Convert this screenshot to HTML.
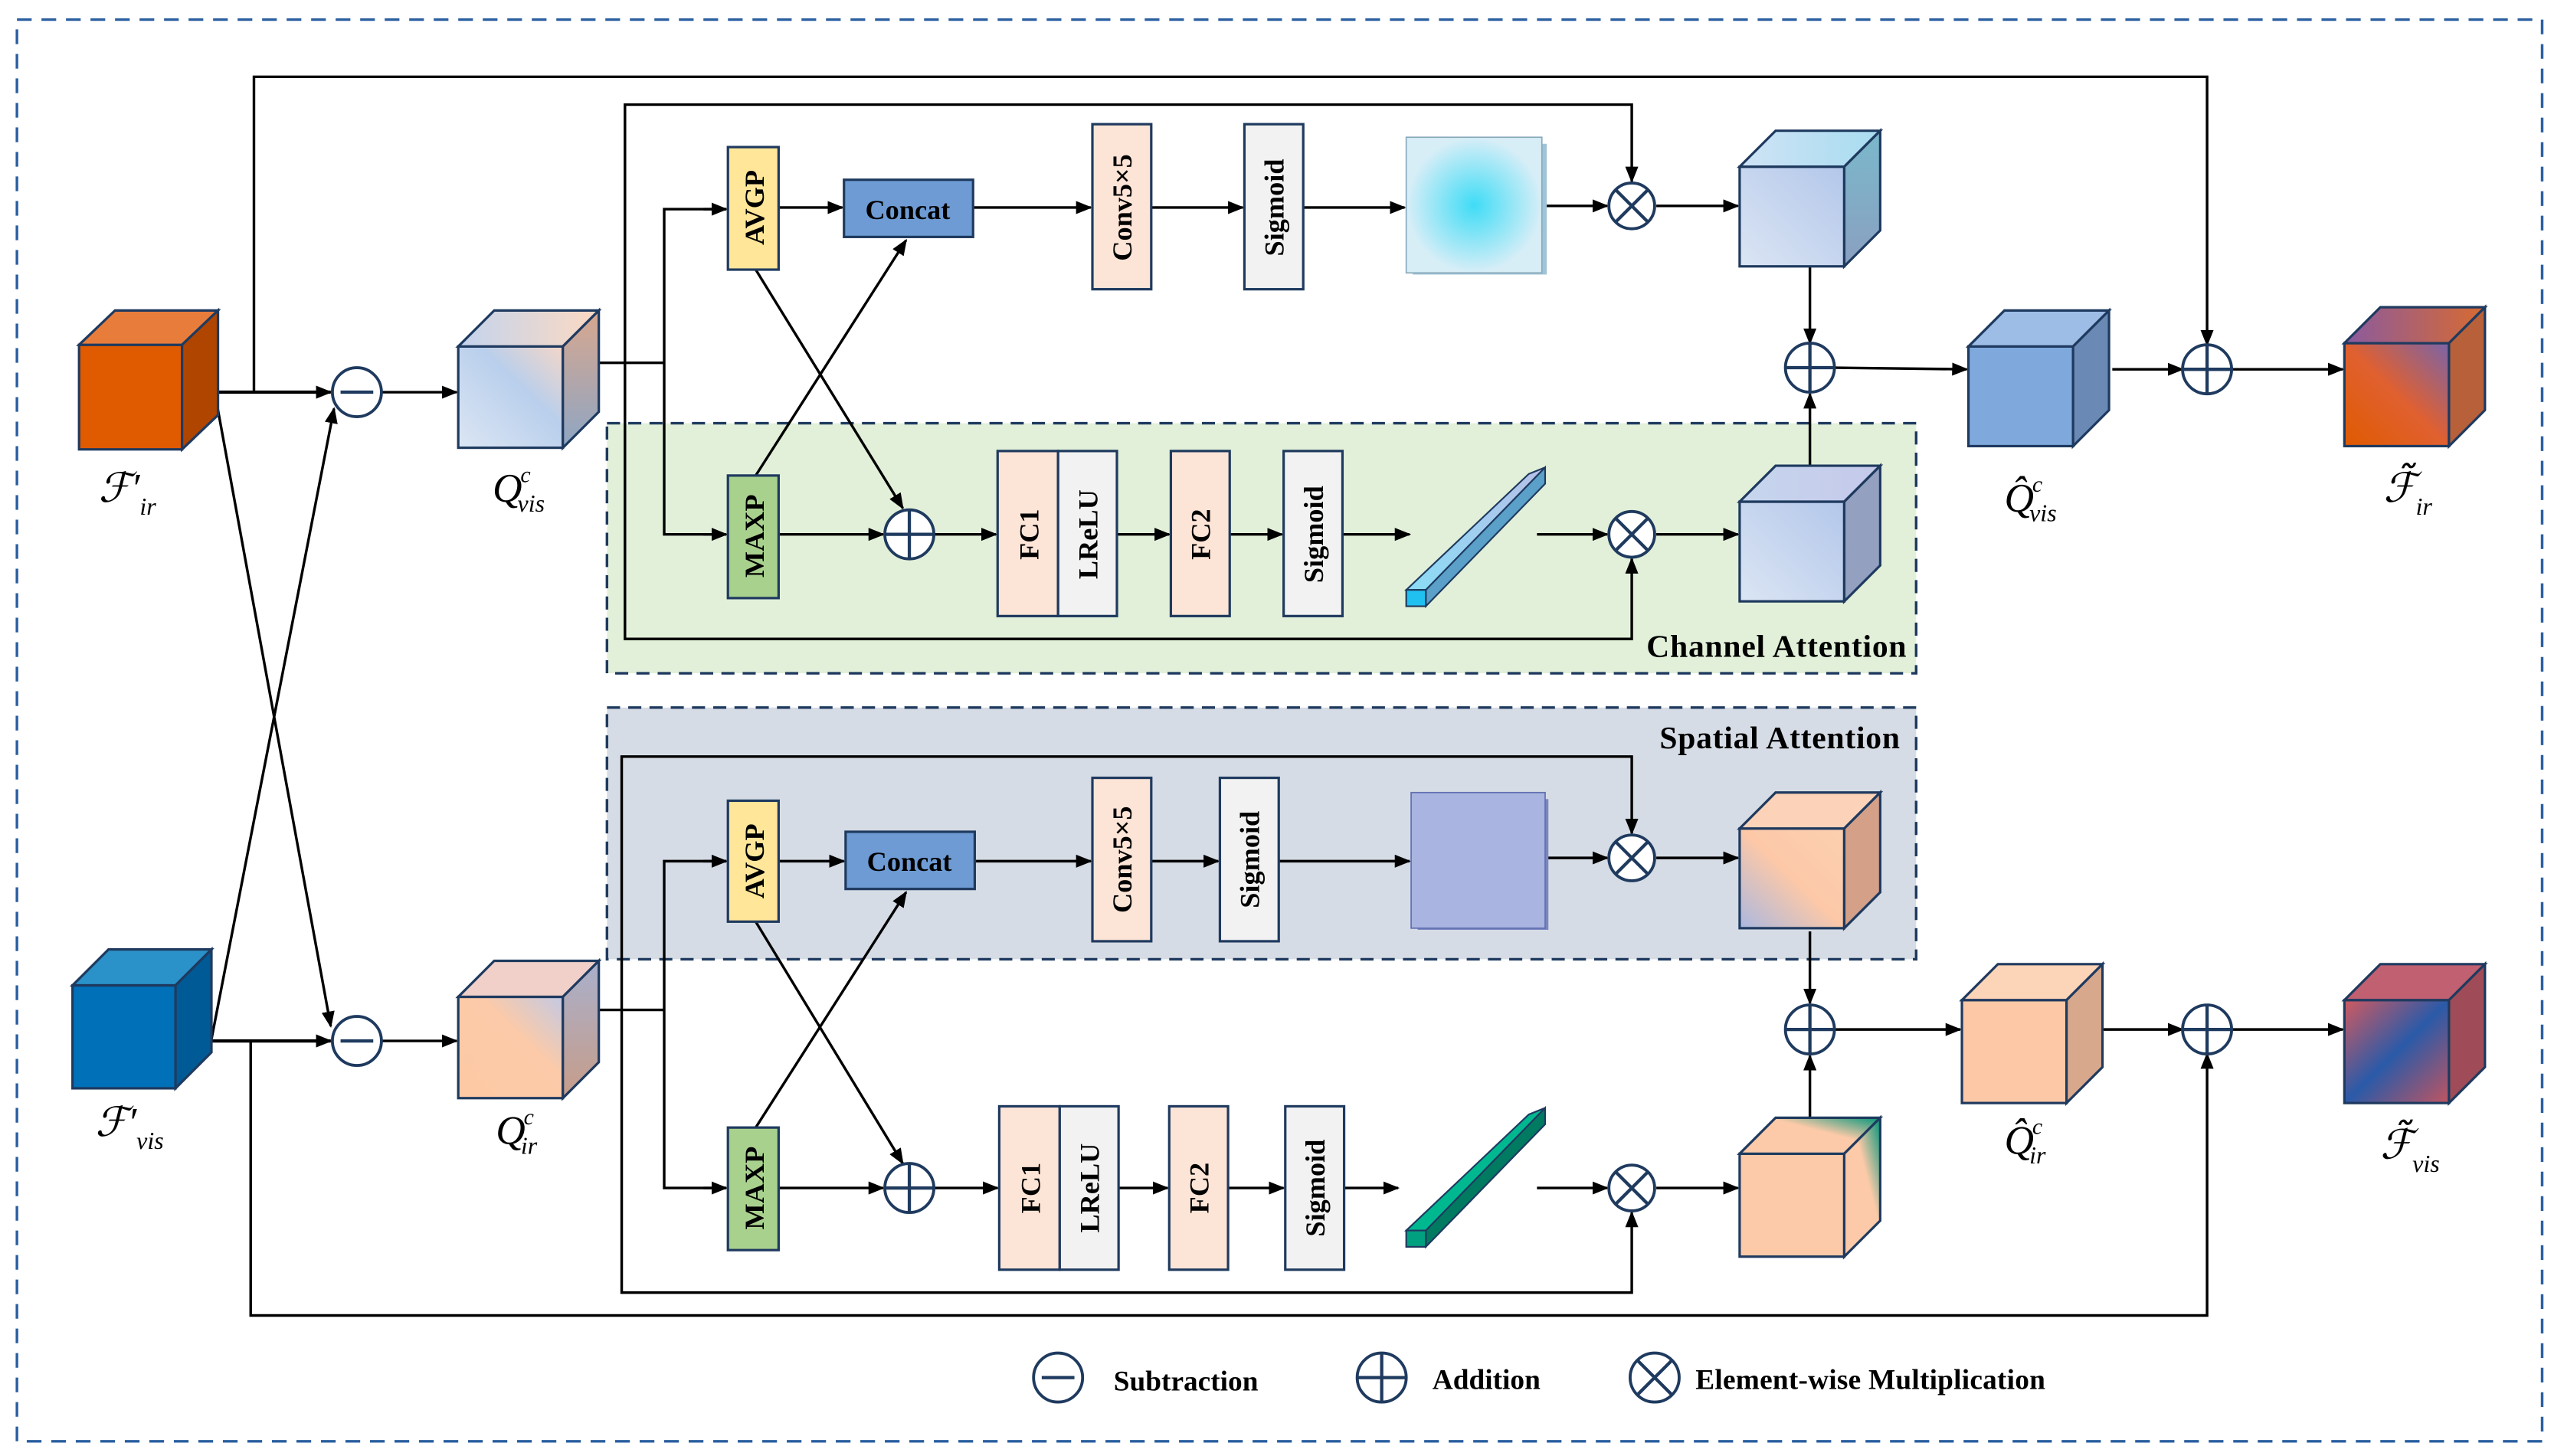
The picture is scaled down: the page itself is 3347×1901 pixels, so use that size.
<!DOCTYPE html>
<html><head><meta charset="utf-8"><style>
html,body{margin:0;padding:0;background:#fff;}
svg{display:block;}
.t{font-family:"Liberation Serif",serif;font-weight:bold;fill:#000;}
.m{font-family:"Liberation Serif",serif;font-style:italic;fill:#000;}
</style></head><body>
<svg width="3347" height="1901" viewBox="0 0 1568 891" xmlns="http://www.w3.org/2000/svg">
<defs>
<marker id="a" markerWidth="10" markerHeight="8" refX="9" refY="4" orient="auto" markerUnits="userSpaceOnUse"><path d="M0,0 L10,4 L0,8 Z" fill="#000"/></marker>
<linearGradient id="qv" x1="0" y1="1" x2="1" y2="0"><stop offset="0" stop-color="#dce6f4"/><stop offset="0.6" stop-color="#b9cfec"/><stop offset="1" stop-color="#f3d6c8"/></linearGradient>
<linearGradient id="qvt" x1="0" y1="0" x2="1" y2="0"><stop offset="0" stop-color="#c3d4ee"/><stop offset="1" stop-color="#fcd9c2"/></linearGradient>
<linearGradient id="qvs" x1="0" y1="0" x2="0" y2="1"><stop offset="0" stop-color="#d8a78e"/><stop offset="1" stop-color="#8ea6c4"/></linearGradient>
<linearGradient id="qi" x1="0" y1="1" x2="1" y2="0"><stop offset="0" stop-color="#fdc9a4"/><stop offset="0.6" stop-color="#fccaa8"/><stop offset="1" stop-color="#c3c9e4"/></linearGradient>
<linearGradient id="qis" x1="0" y1="0" x2="0" y2="1"><stop offset="0" stop-color="#a9b0cc"/><stop offset="1" stop-color="#c79c88"/></linearGradient>
<linearGradient id="lb" x1="0" y1="1" x2="1" y2="0"><stop offset="0" stop-color="#dbe5f4"/><stop offset="1" stop-color="#b3c7ea"/></linearGradient>
<linearGradient id="lbt" x1="0" y1="0" x2="1" y2="0"><stop offset="0" stop-color="#c6d6ee"/><stop offset="1" stop-color="#c5c9ea"/></linearGradient>
<linearGradient id="ut" x1="0" y1="0" x2="1" y2="0"><stop offset="0" stop-color="#cfe3f5"/><stop offset="1" stop-color="#a8dcf0"/></linearGradient>
<linearGradient id="us" x1="0" y1="0" x2="0" y2="1"><stop offset="0" stop-color="#7ab8cc"/><stop offset="1" stop-color="#8aa0c0"/></linearGradient>
<linearGradient id="fi" x1="0" y1="1" x2="1" y2="0"><stop offset="0" stop-color="#e05a00"/><stop offset="0.5" stop-color="#e06030"/><stop offset="1" stop-color="#7a64a8"/></linearGradient>
<linearGradient id="fit" x1="0" y1="0" x2="1" y2="0"><stop offset="0" stop-color="#8a5aa0"/><stop offset="1" stop-color="#d86a30"/></linearGradient>
<linearGradient id="fv" x1="0" y1="0" x2="1" y2="1"><stop offset="0" stop-color="#d05a60"/><stop offset="0.5" stop-color="#2a5aa8"/><stop offset="1" stop-color="#c05560"/></linearGradient>
<linearGradient id="sp" x1="0" y1="1" x2="1" y2="0"><stop offset="0" stop-color="#aab8e0"/><stop offset="0.5" stop-color="#fcc8a8"/><stop offset="1" stop-color="#fcd0b0"/></linearGradient>
<linearGradient id="gr" x1="0" y1="1" x2="1" y2="0"><stop offset="0" stop-color="#fccaa8"/><stop offset="0.6" stop-color="#fccaa8"/><stop offset="1" stop-color="#00957a"/></linearGradient>
<radialGradient id="cy"><stop offset="0" stop-color="#3fdcf6"/><stop offset="1" stop-color="#d8eef7"/></radialGradient>
<linearGradient id="bar" x1="0" y1="1" x2="1" y2="0"><stop offset="0" stop-color="#8adcf6"/><stop offset="1" stop-color="#b8c0e8"/></linearGradient>
</defs>

<rect x="10" y="12" width="1545" height="870" fill="none" stroke="#2a5fa0" stroke-width="1.6" stroke-dasharray="9,6"/>

<rect x="371" y="259" width="801" height="153" fill="#e2f0d9" stroke="#1f3a5f" stroke-width="1.6" stroke-dasharray="8,5"/>
<text class="t" x="1166" y="402" font-size="19.5" text-anchor="end" textLength="159">Channel Attention</text>
<rect x="371" y="433" width="801" height="154" fill="#d6dce5" stroke="#1f3a5f" stroke-width="1.6" stroke-dasharray="8,5"/>
<text class="t" x="1162" y="458" font-size="19.5" text-anchor="end" textLength="147">Spatial Attention</text>

<g fill="none" stroke="#000" stroke-width="1.6">
<polyline points="155,240 155,47 1350,47 1350,211" marker-end="url(#a)"/>
<polyline points="153,637 153,805 1350,805 1350,645" marker-end="url(#a)"/>
<line x1="111" y1="240" x2="202" y2="240" stroke-width="2" marker-end="url(#a)"/>
<line x1="107" y1="637" x2="202" y2="637" stroke-width="2" marker-end="url(#a)"/>
<line x1="131" y1="240" x2="202" y2="628" marker-end="url(#a)"/>
<line x1="129" y1="636" x2="204" y2="250" marker-end="url(#a)"/>
<line x1="233" y1="240" x2="279" y2="240" marker-end="url(#a)"/>
<line x1="233" y1="637" x2="279" y2="637" marker-end="url(#a)"/>

<polyline points="344,222 406,222"/>
<polyline points="444,128 406,128 406,327 444,327" />
<line x1="430" y1="128" x2="444" y2="128" marker-end="url(#a)"/>
<line x1="430" y1="327" x2="444" y2="327" marker-end="url(#a)"/>
<polyline points="382,222 382,391 998,391 998,342" marker-end="url(#a)"/>
<polyline points="382,222 382,64 998,64 998,111" marker-end="url(#a)"/>
<line x1="476" y1="127" x2="515" y2="127" marker-end="url(#a)"/>
<line x1="595" y1="127" x2="667" y2="127" marker-end="url(#a)"/>
<line x1="704" y1="127" x2="760" y2="127" marker-end="url(#a)"/>
<line x1="797" y1="127" x2="859" y2="127" marker-end="url(#a)"/>
<line x1="945" y1="126" x2="983" y2="126" marker-end="url(#a)"/>
<line x1="1013" y1="126" x2="1063" y2="126" marker-end="url(#a)"/>
<line x1="1107" y1="163" x2="1107" y2="210" marker-end="url(#a)"/>
<line x1="1122" y1="225" x2="1203" y2="226" marker-end="url(#a)"/>
<line x1="1292" y1="226" x2="1335" y2="226" marker-end="url(#a)"/>
<line x1="1365" y1="226" x2="1433" y2="226" marker-end="url(#a)"/>
<line x1="1107" y1="285" x2="1107" y2="241" marker-end="url(#a)"/>
<line x1="462" y1="165" x2="552" y2="311" marker-end="url(#a)"/>
<line x1="462" y1="291" x2="554" y2="147" marker-end="url(#a)"/>
<line x1="476" y1="327" x2="540" y2="327" marker-end="url(#a)"/>
<line x1="571" y1="327" x2="609" y2="327" marker-end="url(#a)"/>
<line x1="683" y1="327" x2="715" y2="327" marker-end="url(#a)"/>
<line x1="752" y1="327" x2="784" y2="327" marker-end="url(#a)"/>
<line x1="821" y1="327" x2="862" y2="327" marker-end="url(#a)"/>
<line x1="940" y1="327" x2="983" y2="327" marker-end="url(#a)"/>
<line x1="1013" y1="327" x2="1063" y2="327" marker-end="url(#a)"/>

<polyline points="344,618 406,618"/>
<polyline points="444,527 406,527 406,727 444,727"/>
<line x1="430" y1="527" x2="444" y2="527" marker-end="url(#a)"/>
<line x1="430" y1="727" x2="444" y2="727" marker-end="url(#a)"/>
<polyline points="380,618 380,463 998,463 998,510" marker-end="url(#a)"/>
<polyline points="380,618 380,791 998,791 998,742" marker-end="url(#a)"/>
<line x1="476" y1="527" x2="516" y2="527" marker-end="url(#a)"/>
<line x1="596" y1="527" x2="667" y2="527" marker-end="url(#a)"/>
<line x1="704" y1="527" x2="745" y2="527" marker-end="url(#a)"/>
<line x1="782" y1="527" x2="862" y2="527" marker-end="url(#a)"/>
<line x1="945" y1="525" x2="983" y2="525" marker-end="url(#a)"/>
<line x1="1013" y1="525" x2="1063" y2="525" marker-end="url(#a)"/>
<line x1="1107" y1="570" x2="1107" y2="614" marker-end="url(#a)"/>
<line x1="1122" y1="630" x2="1199" y2="630" marker-end="url(#a)"/>
<line x1="1285" y1="630" x2="1335" y2="630" marker-end="url(#a)"/>
<line x1="1365" y1="630" x2="1433" y2="630" marker-end="url(#a)"/>
<line x1="1107" y1="685" x2="1107" y2="646" marker-end="url(#a)"/>
<line x1="462" y1="564" x2="552" y2="712" marker-end="url(#a)"/>
<line x1="462" y1="690" x2="554" y2="546" marker-end="url(#a)"/>
<line x1="476" y1="727" x2="540" y2="727" marker-end="url(#a)"/>
<line x1="571" y1="727" x2="610" y2="727" marker-end="url(#a)"/>
<line x1="684" y1="727" x2="714" y2="727" marker-end="url(#a)"/>
<line x1="751" y1="727" x2="785" y2="727" marker-end="url(#a)"/>
<line x1="822" y1="727" x2="855" y2="727" marker-end="url(#a)"/>
<line x1="940" y1="727" x2="983" y2="727" marker-end="url(#a)"/>
<line x1="1013" y1="727" x2="1063" y2="727" marker-end="url(#a)"/>
</g>

<g stroke="#1f3a5f" stroke-width="1.5">
<rect x="445" y="90" width="31" height="75" fill="#ffe699"/>
<rect x="516" y="110" width="79" height="35" fill="#6e9bd4"/>
<rect x="668" y="76" width="36" height="101" fill="#fce4d6"/>
<rect x="761" y="76" width="36" height="101" fill="#f2f2f2"/>
<rect x="445" y="291" width="31" height="75" fill="#a9d18e"/>
<rect x="610" y="276" width="37" height="101" fill="#fce4d6"/>
<rect x="647" y="276" width="36" height="101" fill="#f2f2f2"/>
<rect x="716" y="276" width="36" height="101" fill="#fce4d6"/>
<rect x="785" y="276" width="36" height="101" fill="#f2f2f2"/>

<rect x="445" y="490" width="31" height="74" fill="#ffe699"/>
<rect x="517" y="509" width="79" height="35" fill="#6e9bd4"/>
<rect x="668" y="476" width="36" height="100" fill="#fce4d6"/>
<rect x="746" y="476" width="36" height="100" fill="#f2f2f2"/>
<rect x="445" y="690" width="31" height="75" fill="#a9d18e"/>
<rect x="611" y="677" width="37" height="100" fill="#fce4d6"/>
<rect x="648" y="677" width="36" height="100" fill="#f2f2f2"/>
<rect x="715" y="677" width="36" height="100" fill="#fce4d6"/>
<rect x="786" y="677" width="36" height="100" fill="#f2f2f2"/>
</g>
<g class="t" font-size="17">
<text x="555" y="134" text-anchor="middle">Concat</text>
<text x="556" y="533" text-anchor="middle">Concat</text>
<text transform="translate(467,127) rotate(-90)" text-anchor="middle">AVGP</text>
<text transform="translate(467,328) rotate(-90)" text-anchor="middle">MAXP</text>
<text transform="translate(467,527) rotate(-90)" text-anchor="middle">AVGP</text>
<text transform="translate(467,727) rotate(-90)" text-anchor="middle">MAXP</text>
<text transform="translate(692,127) rotate(-90)" text-anchor="middle">Conv5×5</text>
<text transform="translate(785,127) rotate(-90)" text-anchor="middle">Sigmoid</text>
<text transform="translate(692,526) rotate(-90)" text-anchor="middle">Conv5×5</text>
<text transform="translate(770,526) rotate(-90)" text-anchor="middle">Sigmoid</text>
<text transform="translate(635,327) rotate(-90)" text-anchor="middle">FC1</text>
<text transform="translate(671,327) rotate(-90)" text-anchor="middle">LReLU</text>
<text transform="translate(740,327) rotate(-90)" text-anchor="middle">FC2</text>
<text transform="translate(809,327) rotate(-90)" text-anchor="middle">Sigmoid</text>
<text transform="translate(636,727) rotate(-90)" text-anchor="middle">FC1</text>
<text transform="translate(672,727) rotate(-90)" text-anchor="middle">LReLU</text>
<text transform="translate(739,727) rotate(-90)" text-anchor="middle">FC2</text>
<text transform="translate(810,727) rotate(-90)" text-anchor="middle">Sigmoid</text>
</g>

<rect x="864" y="88" width="82" height="80" fill="#9fc4d8"/>
<rect x="860" y="84" width="83" height="83" fill="url(#cy)" stroke="#8ab" stroke-width="0.8"/>
<rect x="867" y="489" width="80" height="80" fill="#7a86c0"/>
<rect x="863" y="485" width="82" height="83" fill="#a9b4e0" stroke="#6070b0" stroke-width="0.8"/>
<g stroke="#1f3a5f" stroke-width="1">
<polygon points="860,361 935,290 945,286 872,361" fill="url(#bar)"/>
<polygon points="872,361 945,286 945,296 872,371" fill="#5aa0c8"/>
<rect x="860" y="361" width="12" height="10" fill="#20c0f0"/>
<polygon points="860,753 935,682 945,678 872,753" fill="#00b890"/>
<polygon points="872,753 945,678 945,688 872,763" fill="#007a60"/>
<rect x="860" y="753" width="12" height="10" fill="#00a080"/>
</g>

<g stroke="#1f3a5f" stroke-width="1.5">
<rect x="48" y="211" width="63" height="64" fill="#e05a00"/>
<polygon points="48,211 70,190 133,190 111,211" fill="#e87d3b"/>
<polygon points="111,211 133,190 133,254 111,275" fill="#b04500"/>
<rect x="44" y="603" width="63" height="63" fill="#0070b8"/>
<polygon points="44,603 66,581 129,581 107,603" fill="#2a92c8"/>
<polygon points="107,603 129,581 129,644 107,666" fill="#005a96"/>
<rect x="280" y="212" width="64" height="62" fill="url(#qv)"/>
<polygon points="280,212 302,190 366,190 344,212" fill="url(#qvt)"/>
<polygon points="344,212 366,190 366,252 344,274" fill="url(#qvs)"/>
<rect x="280" y="610" width="64" height="62" fill="url(#qi)"/>
<polygon points="280,610 302,588 366,588 344,610" fill="#f0d0c8"/>
<polygon points="344,610 366,588 366,650 344,672" fill="url(#qis)"/>
<rect x="1064" y="102" width="64" height="61" fill="url(#lb)"/>
<polygon points="1064,102 1086,80 1150,80 1128,102" fill="url(#ut)"/>
<polygon points="1128,102 1150,80 1150,141 1128,163" fill="url(#us)"/>
<rect x="1064" y="307" width="64" height="61" fill="url(#lb)"/>
<polygon points="1064,307 1086,285 1150,285 1128,307" fill="url(#lbt)"/>
<polygon points="1128,307 1150,285 1150,346 1128,368" fill="#94a0c0"/>
<rect x="1204" y="212" width="64" height="61" fill="#7fa9dc"/>
<polygon points="1204,212 1226,190 1290,190 1268,212" fill="#9ebde6"/>
<polygon points="1268,212 1290,190 1290,251 1268,273" fill="#6a8ab5"/>
<rect x="1434" y="210" width="64" height="63" fill="url(#fi)"/>
<polygon points="1434,210 1456,188 1520,188 1498,210" fill="url(#fit)"/>
<polygon points="1498,210 1520,188 1520,251 1498,273" fill="#b8603a"/>
<rect x="1064" y="507" width="64" height="61" fill="url(#sp)"/>
<polygon points="1064,507 1086,485 1150,485 1128,507" fill="#fcd2b8"/>
<polygon points="1128,507 1150,485 1150,546 1128,568" fill="#d4a088"/>
<rect x="1064" y="706" width="64" height="63" fill="#fccaa8"/>
<polygon points="1064,706 1086,684 1150,684 1128,706" fill="url(#gr)"/>
<polygon points="1128,706 1150,684 1150,747 1128,769" fill="url(#gr)"/>
<rect x="1200" y="612" width="64" height="63" fill="#fcc8a6"/>
<polygon points="1200,612 1222,590 1286,590 1264,612" fill="#fcd4b8"/>
<polygon points="1264,612 1286,590 1286,653 1264,675" fill="#d8a88c"/>
<rect x="1434" y="612" width="64" height="63" fill="url(#fv)"/>
<polygon points="1434,612 1456,590 1520,590 1498,612" fill="#c06070"/>
<polygon points="1498,612 1520,590 1520,653 1498,675" fill="#a04c58"/>
</g>

<g fill="#fff" stroke="#1f3a5f" stroke-width="1.8">
<circle cx="218" cy="240" r="15"/><circle cx="218" cy="637" r="15"/>
<circle cx="998" cy="126" r="14"/><circle cx="998" cy="327" r="14"/>
<circle cx="998" cy="525" r="14"/><circle cx="998" cy="727" r="14"/>
<circle cx="1107" cy="225" r="15"/><circle cx="1350" cy="226" r="15"/>
<circle cx="1107" cy="630" r="15"/><circle cx="1350" cy="630" r="15"/>
<circle cx="556" cy="327" r="15"/><circle cx="556" cy="727" r="15"/>
<circle cx="647" cy="843" r="15"/><circle cx="845" cy="843" r="15"/><circle cx="1012" cy="843" r="15"/>
</g>
<g stroke="#1f3a5f" stroke-width="2" fill="none">
<path d="M208,240 H228 M208,637 H228 M637,843 H657"/>
<path d="M1092,225 H1122 M1107,210 V240 M1335,226 H1365 M1350,211 V241 M1092,630 H1122 M1107,615 V645 M1335,630 H1365 M1350,615 V645 M541,327 H571 M556,312 V342 M541,727 H571 M556,712 V742 M830,843 H860 M845,828 V858"/>
<path d="M988,116 L1008,136 M1008,116 L988,136 M988,317 L1008,337 M1008,317 L988,337 M988,515 L1008,535 M1008,515 L988,535 M988,717 L1008,737 M1008,717 L988,737 M1001,832 L1023,854 M1023,832 L1001,854"/>
</g>

<g class="t" font-size="17.5">
<text x="681" y="851">Subtraction</text>
<text x="876" y="850">Addition</text>
<text x="1037" y="850" textLength="214">Element-wise Multiplication</text>
</g>

<g class="m">
<text x="60" y="307" font-size="25">ℱ′<tspan font-size="15" dy="8">ir</tspan></text>
<text x="58" y="695" font-size="25">ℱ′<tspan font-size="15" dy="8">vis</tspan></text>
<text x="301" y="307" font-size="25">Q<tspan font-size="14" dx="-1" dy="-12">c</tspan><tspan font-size="15" dx="-8" dy="18">vis</tspan></text>
<text x="303" y="700" font-size="25">Q<tspan font-size="14" dx="-1" dy="-12">c</tspan><tspan font-size="15" dx="-8" dy="18">ir</tspan></text>
<text x="1226" y="313" font-size="25">Q̂<tspan font-size="14" dx="-1" dy="-12">c</tspan><tspan font-size="15" dx="-8" dy="18">vis</tspan></text>
<text x="1226" y="706" font-size="25">Q̂<tspan font-size="14" dx="-1" dy="-12">c</tspan><tspan font-size="15" dx="-8" dy="18">ir</tspan></text>
<text x="1458" y="307" font-size="25">ℱ̃<tspan font-size="15" dy="8">ir</tspan></text>
<text x="1456" y="709" font-size="25">ℱ̃<tspan font-size="15" dy="8">vis</tspan></text>
</g>
</svg>
</body></html>
